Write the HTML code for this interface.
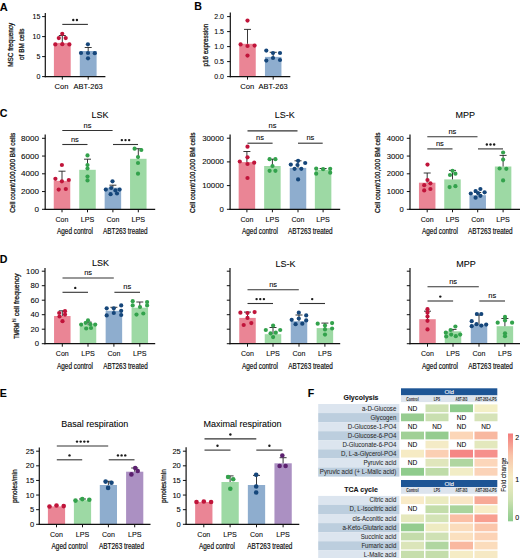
<!DOCTYPE html>
<html><head><meta charset="utf-8"><style>html,body{margin:0;padding:0;background:#fff;}body{width:520px;height:558px;overflow:hidden;font-family:"Liberation Sans", sans-serif;}svg{display:block;}</style></head><body>
<svg width="520" height="558" viewBox="0 0 520 558" font-family='"Liberation Sans", sans-serif'>
<rect width="520" height="558" fill="#fff"/>
<text x="-0.30" y="11.20" font-size="11" font-weight="bold" fill="#000" stroke="#000" stroke-width="0.08">A</text>
<text x="194.30" y="9.60" font-size="10.6" font-weight="bold" fill="#000" stroke="#000" stroke-width="0.08">B</text>
<text x="-0.20" y="117.00" font-size="10.6" font-weight="bold" fill="#000" stroke="#000" stroke-width="0.08">C</text>
<text x="-0.20" y="263.10" font-size="10.6" font-weight="bold" fill="#000" stroke="#000" stroke-width="0.08">D</text>
<text x="-0.20" y="397.10" font-size="10.6" font-weight="bold" fill="#000" stroke="#000" stroke-width="0.08">E</text>
<text x="307.80" y="396.70" font-size="10.6" font-weight="bold" fill="#000" stroke="#000" stroke-width="0.08">F</text>
<rect x="53.90" y="42.90" width="16.80" height="33.70" fill="#ea8595"/>
<rect x="79.80" y="51.00" width="16.80" height="25.60" fill="#8eadce"/>
<line x1="62.30" y1="42.90" x2="62.30" y2="35.50" stroke="#222" stroke-width="0.9"/>
<line x1="58.80" y1="35.50" x2="65.80" y2="35.50" stroke="#222" stroke-width="0.9"/>
<circle cx="62.25" cy="33.80" r="2.1" fill="#c0143a"/>
<circle cx="58.80" cy="38.10" r="2.1" fill="#c0143a"/>
<circle cx="65.70" cy="38.10" r="2.1" fill="#c0143a"/>
<circle cx="55.30" cy="44.40" r="2.1" fill="#c0143a"/>
<circle cx="62.30" cy="44.20" r="2.1" fill="#c0143a"/>
<circle cx="69.40" cy="44.40" r="2.1" fill="#c0143a"/>
<line x1="88.20" y1="51.00" x2="88.20" y2="47.50" stroke="#222" stroke-width="0.9"/>
<line x1="84.70" y1="47.50" x2="91.70" y2="47.50" stroke="#222" stroke-width="0.9"/>
<circle cx="87.90" cy="44.30" r="2.1" fill="#15467a"/>
<circle cx="81.00" cy="53.00" r="2.1" fill="#15467a"/>
<circle cx="88.00" cy="53.00" r="2.1" fill="#15467a"/>
<circle cx="94.80" cy="53.20" r="2.1" fill="#15467a"/>
<circle cx="88.00" cy="58.30" r="2.1" fill="#15467a"/>
<line x1="45.30" y1="12.90" x2="45.30" y2="77.20" stroke="#111" stroke-width="1.2"/>
<line x1="44.70" y1="76.60" x2="105.40" y2="76.60" stroke="#111" stroke-width="1.2"/>
<line x1="42.10" y1="76.60" x2="45.30" y2="76.60" stroke="#111" stroke-width="1.0"/>
<text x="40.40" y="79.10" font-size="7" text-anchor="end" stroke="#222" stroke-width="0.08">0</text>
<line x1="42.10" y1="56.60" x2="45.30" y2="56.60" stroke="#111" stroke-width="1.0"/>
<text x="40.40" y="59.10" font-size="7" text-anchor="end" stroke="#222" stroke-width="0.08">5</text>
<line x1="42.10" y1="36.60" x2="45.30" y2="36.60" stroke="#111" stroke-width="1.0"/>
<text x="40.40" y="39.10" font-size="7" text-anchor="end" stroke="#222" stroke-width="0.08">10</text>
<line x1="42.10" y1="16.60" x2="45.30" y2="16.60" stroke="#111" stroke-width="1.0"/>
<text x="40.40" y="19.10" font-size="7" text-anchor="end" stroke="#222" stroke-width="0.08">15</text>
<line x1="62.30" y1="76.60" x2="62.30" y2="79.60" stroke="#111" stroke-width="1.0"/>
<line x1="88.20" y1="76.60" x2="88.20" y2="79.60" stroke="#111" stroke-width="1.0"/>
<line x1="62.30" y1="24.40" x2="87.90" y2="24.40" stroke="#333" stroke-width="1.1"/>
<circle cx="73.27" cy="20.00" r="1.2" fill="#1a1a1a"/>
<circle cx="76.92" cy="20.00" r="1.2" fill="#1a1a1a"/>
<text x="61.60" y="88.60" font-size="7.5" text-anchor="middle" textLength="14.00" lengthAdjust="spacingAndGlyphs" stroke="#222" stroke-width="0.08">Con</text>
<text x="88.20" y="88.60" font-size="7.5" text-anchor="middle" stroke="#222" stroke-width="0.08">ABT-263</text>
<text x="13.50" y="44.80" font-size="7.0" text-anchor="middle" textLength="44.00" lengthAdjust="spacingAndGlyphs" transform="rotate(-90 13.50 44.80)" stroke="#222" stroke-width="0.28">MSC frequency</text>
<text x="24.20" y="44.20" font-size="7.0" text-anchor="middle" textLength="31.50" lengthAdjust="spacingAndGlyphs" transform="rotate(-90 24.20 44.20)" stroke="#222" stroke-width="0.28">of BM cells</text>
<rect x="239.25" y="43.80" width="16.50" height="32.80" fill="#ea8595"/>
<rect x="264.95" y="56.90" width="16.50" height="19.70" fill="#8eadce"/>
<line x1="247.50" y1="43.80" x2="247.50" y2="29.40" stroke="#222" stroke-width="0.9"/>
<line x1="244.00" y1="29.40" x2="251.00" y2="29.40" stroke="#222" stroke-width="0.9"/>
<circle cx="247.50" cy="20.60" r="2.1" fill="#c0143a"/>
<circle cx="240.60" cy="44.40" r="2.1" fill="#c0143a"/>
<circle cx="247.50" cy="46.00" r="2.1" fill="#c0143a"/>
<circle cx="254.60" cy="45.60" r="2.1" fill="#c0143a"/>
<circle cx="247.50" cy="55.60" r="2.1" fill="#c0143a"/>
<line x1="273.20" y1="56.90" x2="273.20" y2="52.30" stroke="#222" stroke-width="0.9"/>
<line x1="269.70" y1="52.30" x2="276.70" y2="52.30" stroke="#222" stroke-width="0.9"/>
<circle cx="266.30" cy="50.60" r="2.1" fill="#15467a"/>
<circle cx="273.00" cy="53.00" r="2.1" fill="#15467a"/>
<circle cx="280.00" cy="53.00" r="2.1" fill="#15467a"/>
<circle cx="273.00" cy="58.00" r="2.1" fill="#15467a"/>
<circle cx="266.30" cy="60.60" r="2.1" fill="#15467a"/>
<circle cx="280.00" cy="60.00" r="2.1" fill="#15467a"/>
<line x1="230.30" y1="12.50" x2="230.30" y2="77.20" stroke="#111" stroke-width="1.2"/>
<line x1="229.70" y1="76.60" x2="290.30" y2="76.60" stroke="#111" stroke-width="1.2"/>
<line x1="227.10" y1="76.60" x2="230.30" y2="76.60" stroke="#111" stroke-width="1.0"/>
<text x="224.00" y="79.10" font-size="7" text-anchor="end" stroke="#222" stroke-width="0.08">0.0</text>
<line x1="227.10" y1="61.60" x2="230.30" y2="61.60" stroke="#111" stroke-width="1.0"/>
<text x="224.00" y="64.10" font-size="7" text-anchor="end" stroke="#222" stroke-width="0.08">0.5</text>
<line x1="227.10" y1="46.60" x2="230.30" y2="46.60" stroke="#111" stroke-width="1.0"/>
<text x="224.00" y="49.10" font-size="7" text-anchor="end" stroke="#222" stroke-width="0.08">1.0</text>
<line x1="227.10" y1="31.60" x2="230.30" y2="31.60" stroke="#111" stroke-width="1.0"/>
<text x="224.00" y="34.10" font-size="7" text-anchor="end" stroke="#222" stroke-width="0.08">1.5</text>
<line x1="227.10" y1="16.60" x2="230.30" y2="16.60" stroke="#111" stroke-width="1.0"/>
<text x="224.00" y="19.10" font-size="7" text-anchor="end" stroke="#222" stroke-width="0.08">2.0</text>
<line x1="247.50" y1="76.60" x2="247.50" y2="79.60" stroke="#111" stroke-width="1.0"/>
<line x1="273.20" y1="76.60" x2="273.20" y2="79.60" stroke="#111" stroke-width="1.0"/>
<text x="247.30" y="88.60" font-size="7.5" text-anchor="middle" textLength="14.00" lengthAdjust="spacingAndGlyphs" stroke="#222" stroke-width="0.08">Con</text>
<text x="273.20" y="88.60" font-size="7.5" text-anchor="middle" stroke="#222" stroke-width="0.08">ABT-263</text>
<text x="208.00" y="45.10" font-size="7.0" text-anchor="middle" textLength="43.00" lengthAdjust="spacingAndGlyphs" transform="rotate(-90 208.00 45.10)" stroke="#222" stroke-width="0.28">p16 expression</text>
<rect x="53.75" y="180.80" width="16.50" height="28.50" fill="#ea8595"/>
<rect x="79.25" y="169.80" width="16.50" height="39.50" fill="#9dd9a4"/>
<rect x="104.65" y="187.70" width="16.50" height="21.60" fill="#8eadce"/>
<rect x="130.05" y="158.80" width="16.50" height="50.50" fill="#9dd9a4"/>
<line x1="62.00" y1="180.80" x2="62.00" y2="171.20" stroke="#222" stroke-width="0.9"/>
<line x1="58.50" y1="171.20" x2="65.50" y2="171.20" stroke="#222" stroke-width="0.9"/>
<circle cx="61.90" cy="165.00" r="2.1" fill="#c0143a"/>
<circle cx="55.40" cy="178.80" r="2.1" fill="#c0143a"/>
<circle cx="61.90" cy="181.30" r="2.1" fill="#c0143a"/>
<circle cx="68.80" cy="180.00" r="2.1" fill="#c0143a"/>
<circle cx="58.70" cy="189.60" r="2.1" fill="#c0143a"/>
<circle cx="65.80" cy="189.00" r="2.1" fill="#c0143a"/>
<line x1="87.50" y1="169.80" x2="87.50" y2="159.20" stroke="#222" stroke-width="0.9"/>
<line x1="84.00" y1="159.20" x2="91.00" y2="159.20" stroke="#222" stroke-width="0.9"/>
<circle cx="87.50" cy="155.40" r="2.1" fill="#33a24c"/>
<circle cx="87.50" cy="165.00" r="2.1" fill="#33a24c"/>
<circle cx="87.50" cy="168.50" r="2.1" fill="#33a24c"/>
<circle cx="87.50" cy="176.50" r="2.1" fill="#33a24c"/>
<circle cx="87.50" cy="180.40" r="2.1" fill="#33a24c"/>
<line x1="112.90" y1="187.70" x2="112.90" y2="185.20" stroke="#222" stroke-width="0.9"/>
<line x1="109.40" y1="185.20" x2="116.40" y2="185.20" stroke="#222" stroke-width="0.9"/>
<circle cx="112.50" cy="181.30" r="2.1" fill="#15467a"/>
<circle cx="105.80" cy="189.60" r="2.1" fill="#15467a"/>
<circle cx="111.20" cy="188.00" r="2.1" fill="#15467a"/>
<circle cx="115.40" cy="190.40" r="2.1" fill="#15467a"/>
<circle cx="119.60" cy="189.60" r="2.1" fill="#15467a"/>
<circle cx="110.60" cy="194.20" r="2.1" fill="#15467a"/>
<circle cx="117.00" cy="193.50" r="2.1" fill="#15467a"/>
<line x1="138.30" y1="158.80" x2="138.30" y2="148.70" stroke="#222" stroke-width="0.9"/>
<line x1="134.80" y1="148.70" x2="141.80" y2="148.70" stroke="#222" stroke-width="0.9"/>
<circle cx="134.60" cy="148.70" r="2.1" fill="#33a24c"/>
<circle cx="141.30" cy="150.00" r="2.1" fill="#33a24c"/>
<circle cx="138.00" cy="157.00" r="2.1" fill="#33a24c"/>
<circle cx="138.00" cy="163.00" r="2.1" fill="#33a24c"/>
<circle cx="138.00" cy="173.70" r="2.1" fill="#33a24c"/>
<line x1="45.20" y1="134.40" x2="45.20" y2="209.90" stroke="#111" stroke-width="1.2"/>
<line x1="44.60" y1="209.30" x2="155.20" y2="209.30" stroke="#111" stroke-width="1.2"/>
<line x1="42.00" y1="209.30" x2="45.20" y2="209.30" stroke="#111" stroke-width="1.0"/>
<text x="39.00" y="211.80" font-size="7" text-anchor="end" textLength="4.50" lengthAdjust="spacingAndGlyphs" stroke="#222" stroke-width="0.08">0</text>
<line x1="42.00" y1="191.55" x2="45.20" y2="191.55" stroke="#111" stroke-width="1.0"/>
<text x="39.00" y="194.05" font-size="7" text-anchor="end" textLength="18.00" lengthAdjust="spacingAndGlyphs" stroke="#222" stroke-width="0.08">2000</text>
<line x1="42.00" y1="173.80" x2="45.20" y2="173.80" stroke="#111" stroke-width="1.0"/>
<text x="39.00" y="176.30" font-size="7" text-anchor="end" textLength="18.00" lengthAdjust="spacingAndGlyphs" stroke="#222" stroke-width="0.08">4000</text>
<line x1="42.00" y1="156.05" x2="45.20" y2="156.05" stroke="#111" stroke-width="1.0"/>
<text x="39.00" y="158.55" font-size="7" text-anchor="end" textLength="18.00" lengthAdjust="spacingAndGlyphs" stroke="#222" stroke-width="0.08">6000</text>
<line x1="42.00" y1="138.30" x2="45.20" y2="138.30" stroke="#111" stroke-width="1.0"/>
<text x="39.00" y="140.80" font-size="7" text-anchor="end" textLength="18.00" lengthAdjust="spacingAndGlyphs" stroke="#222" stroke-width="0.08">8000</text>
<line x1="62.00" y1="209.30" x2="62.00" y2="212.30" stroke="#111" stroke-width="1.0"/>
<line x1="87.50" y1="209.30" x2="87.50" y2="212.30" stroke="#111" stroke-width="1.0"/>
<line x1="112.90" y1="209.30" x2="112.90" y2="212.30" stroke="#111" stroke-width="1.0"/>
<line x1="138.30" y1="209.30" x2="138.30" y2="212.30" stroke="#111" stroke-width="1.0"/>
<line x1="62.30" y1="130.50" x2="112.60" y2="130.50" stroke="#333" stroke-width="1.1"/>
<text x="87.45" y="127.50" font-size="7.5" text-anchor="middle" stroke="#222" stroke-width="0.08">ns</text>
<line x1="62.30" y1="144.50" x2="87.50" y2="144.50" stroke="#333" stroke-width="1.1"/>
<text x="74.90" y="141.50" font-size="7.5" text-anchor="middle" stroke="#222" stroke-width="0.08">ns</text>
<line x1="113.00" y1="144.50" x2="138.00" y2="144.50" stroke="#333" stroke-width="1.1"/>
<circle cx="121.85" cy="140.10" r="1.2" fill="#1a1a1a"/>
<circle cx="125.50" cy="140.10" r="1.2" fill="#1a1a1a"/>
<circle cx="129.15" cy="140.10" r="1.2" fill="#1a1a1a"/>
<text x="62.00" y="221.70" font-size="7.3" text-anchor="middle" textLength="13.00" lengthAdjust="spacingAndGlyphs" stroke="#222" stroke-width="0.08">Con</text>
<text x="87.50" y="221.70" font-size="7.3" text-anchor="middle" textLength="13.60" lengthAdjust="spacingAndGlyphs" stroke="#222" stroke-width="0.08">LPS</text>
<text x="112.90" y="221.70" font-size="7.3" text-anchor="middle" textLength="13.00" lengthAdjust="spacingAndGlyphs" stroke="#222" stroke-width="0.08">Con</text>
<text x="138.30" y="221.70" font-size="7.3" text-anchor="middle" textLength="13.60" lengthAdjust="spacingAndGlyphs" stroke="#222" stroke-width="0.08">LPS</text>
<text x="75.00" y="234.30" font-size="8.3" text-anchor="middle" textLength="36.00" lengthAdjust="spacingAndGlyphs" stroke="#222" stroke-width="0.18">Aged control</text>
<text x="125.30" y="234.30" font-size="8.3" text-anchor="middle" textLength="44.60" lengthAdjust="spacingAndGlyphs" stroke="#222" stroke-width="0.18">ABT263 treated</text>
<text x="14.80" y="172.80" font-size="7.3" text-anchor="middle" textLength="80.00" lengthAdjust="spacingAndGlyphs" transform="rotate(-90 14.80 172.80)" stroke="#222" stroke-width="0.28">Cell count/100,000 BM cells</text>
<text x="100.00" y="117.60" font-size="9" text-anchor="middle" stroke="#222" stroke-width="0.08">LSK</text>
<rect x="238.65" y="162.10" width="16.50" height="47.20" fill="#ea8595"/>
<rect x="264.15" y="166.00" width="16.50" height="43.30" fill="#9dd9a4"/>
<rect x="289.75" y="167.90" width="16.50" height="41.40" fill="#8eadce"/>
<rect x="314.85" y="169.80" width="16.50" height="39.50" fill="#9dd9a4"/>
<line x1="246.90" y1="162.10" x2="246.90" y2="151.50" stroke="#222" stroke-width="0.9"/>
<line x1="243.40" y1="151.50" x2="250.40" y2="151.50" stroke="#222" stroke-width="0.9"/>
<circle cx="247.50" cy="146.70" r="2.1" fill="#c0143a"/>
<circle cx="247.50" cy="157.30" r="2.1" fill="#c0143a"/>
<circle cx="239.80" cy="161.50" r="2.1" fill="#c0143a"/>
<circle cx="247.50" cy="164.00" r="2.1" fill="#c0143a"/>
<circle cx="254.20" cy="162.70" r="2.1" fill="#c0143a"/>
<circle cx="247.50" cy="178.00" r="2.1" fill="#c0143a"/>
<line x1="272.40" y1="166.00" x2="272.40" y2="159.20" stroke="#222" stroke-width="0.9"/>
<line x1="268.90" y1="159.20" x2="275.90" y2="159.20" stroke="#222" stroke-width="0.9"/>
<circle cx="269.60" cy="159.20" r="2.1" fill="#33a24c"/>
<circle cx="275.40" cy="159.20" r="2.1" fill="#33a24c"/>
<circle cx="272.50" cy="166.00" r="2.1" fill="#33a24c"/>
<circle cx="269.60" cy="170.80" r="2.1" fill="#33a24c"/>
<circle cx="275.40" cy="170.80" r="2.1" fill="#33a24c"/>
<line x1="298.00" y1="167.90" x2="298.00" y2="160.80" stroke="#222" stroke-width="0.9"/>
<line x1="294.50" y1="160.80" x2="301.50" y2="160.80" stroke="#222" stroke-width="0.9"/>
<circle cx="298.10" cy="160.80" r="2.1" fill="#15467a"/>
<circle cx="290.80" cy="164.60" r="2.1" fill="#15467a"/>
<circle cx="297.50" cy="165.00" r="2.1" fill="#15467a"/>
<circle cx="305.20" cy="163.00" r="2.1" fill="#15467a"/>
<circle cx="294.60" cy="168.80" r="2.1" fill="#15467a"/>
<circle cx="301.30" cy="168.80" r="2.1" fill="#15467a"/>
<circle cx="298.10" cy="179.40" r="2.1" fill="#15467a"/>
<line x1="323.10" y1="169.80" x2="323.10" y2="168.50" stroke="#222" stroke-width="0.9"/>
<line x1="319.60" y1="168.50" x2="326.60" y2="168.50" stroke="#222" stroke-width="0.9"/>
<circle cx="316.20" cy="168.50" r="2.1" fill="#33a24c"/>
<circle cx="323.10" cy="169.20" r="2.1" fill="#33a24c"/>
<circle cx="330.20" cy="168.80" r="2.1" fill="#33a24c"/>
<circle cx="316.20" cy="173.70" r="2.1" fill="#33a24c"/>
<circle cx="330.20" cy="172.70" r="2.1" fill="#33a24c"/>
<line x1="230.10" y1="134.50" x2="230.10" y2="209.90" stroke="#111" stroke-width="1.2"/>
<line x1="229.50" y1="209.30" x2="340.20" y2="209.30" stroke="#111" stroke-width="1.2"/>
<line x1="226.90" y1="209.30" x2="230.10" y2="209.30" stroke="#111" stroke-width="1.0"/>
<text x="223.90" y="211.80" font-size="7" text-anchor="end" textLength="4.35" lengthAdjust="spacingAndGlyphs" stroke="#222" stroke-width="0.08">0</text>
<line x1="226.90" y1="185.60" x2="230.10" y2="185.60" stroke="#111" stroke-width="1.0"/>
<text x="223.90" y="188.10" font-size="7" text-anchor="end" textLength="21.75" lengthAdjust="spacingAndGlyphs" stroke="#222" stroke-width="0.08">10000</text>
<line x1="226.90" y1="161.90" x2="230.10" y2="161.90" stroke="#111" stroke-width="1.0"/>
<text x="223.90" y="164.40" font-size="7" text-anchor="end" textLength="21.75" lengthAdjust="spacingAndGlyphs" stroke="#222" stroke-width="0.08">20000</text>
<line x1="226.90" y1="138.20" x2="230.10" y2="138.20" stroke="#111" stroke-width="1.0"/>
<text x="223.90" y="140.70" font-size="7" text-anchor="end" textLength="21.75" lengthAdjust="spacingAndGlyphs" stroke="#222" stroke-width="0.08">30000</text>
<line x1="246.90" y1="209.30" x2="246.90" y2="212.30" stroke="#111" stroke-width="1.0"/>
<line x1="272.40" y1="209.30" x2="272.40" y2="212.30" stroke="#111" stroke-width="1.0"/>
<line x1="298.00" y1="209.30" x2="298.00" y2="212.30" stroke="#111" stroke-width="1.0"/>
<line x1="323.10" y1="209.30" x2="323.10" y2="212.30" stroke="#111" stroke-width="1.0"/>
<line x1="247.50" y1="130.90" x2="297.50" y2="130.90" stroke="#333" stroke-width="1.1"/>
<text x="272.50" y="127.90" font-size="7.5" text-anchor="middle" stroke="#222" stroke-width="0.08">ns</text>
<line x1="247.50" y1="143.20" x2="272.60" y2="143.20" stroke="#333" stroke-width="1.1"/>
<text x="260.05" y="140.20" font-size="7.5" text-anchor="middle" stroke="#222" stroke-width="0.08">ns</text>
<line x1="298.00" y1="143.20" x2="322.70" y2="143.20" stroke="#333" stroke-width="1.1"/>
<text x="310.35" y="140.20" font-size="7.5" text-anchor="middle" stroke="#222" stroke-width="0.08">ns</text>
<text x="246.90" y="221.70" font-size="7.3" text-anchor="middle" textLength="13.00" lengthAdjust="spacingAndGlyphs" stroke="#222" stroke-width="0.08">Con</text>
<text x="272.40" y="221.70" font-size="7.3" text-anchor="middle" textLength="13.60" lengthAdjust="spacingAndGlyphs" stroke="#222" stroke-width="0.08">LPS</text>
<text x="298.00" y="221.70" font-size="7.3" text-anchor="middle" textLength="13.00" lengthAdjust="spacingAndGlyphs" stroke="#222" stroke-width="0.08">Con</text>
<text x="323.10" y="221.70" font-size="7.3" text-anchor="middle" textLength="13.60" lengthAdjust="spacingAndGlyphs" stroke="#222" stroke-width="0.08">LPS</text>
<text x="260.00" y="234.30" font-size="8.3" text-anchor="middle" textLength="36.00" lengthAdjust="spacingAndGlyphs" stroke="#222" stroke-width="0.18">Aged control</text>
<text x="310.30" y="234.30" font-size="8.3" text-anchor="middle" textLength="44.60" lengthAdjust="spacingAndGlyphs" stroke="#222" stroke-width="0.18">ABT263 treated</text>
<text x="195.00" y="172.80" font-size="7.3" text-anchor="middle" textLength="80.50" lengthAdjust="spacingAndGlyphs" transform="rotate(-90 195.00 172.80)" stroke="#222" stroke-width="0.28">Cell count/100,000 BM cells</text>
<text x="284.80" y="117.60" font-size="9" text-anchor="middle" stroke="#222" stroke-width="0.08">LS-K</text>
<rect x="418.95" y="182.70" width="16.50" height="26.60" fill="#ea8595"/>
<rect x="444.25" y="179.40" width="16.50" height="29.90" fill="#9dd9a4"/>
<rect x="469.45" y="195.20" width="16.50" height="14.10" fill="#8eadce"/>
<rect x="494.85" y="166.50" width="16.50" height="42.80" fill="#9dd9a4"/>
<line x1="427.20" y1="182.70" x2="427.20" y2="173.00" stroke="#222" stroke-width="0.9"/>
<line x1="423.70" y1="173.00" x2="430.70" y2="173.00" stroke="#222" stroke-width="0.9"/>
<circle cx="427.50" cy="164.60" r="2.1" fill="#c0143a"/>
<circle cx="427.50" cy="180.00" r="2.1" fill="#c0143a"/>
<circle cx="424.20" cy="185.20" r="2.1" fill="#c0143a"/>
<circle cx="430.40" cy="183.30" r="2.1" fill="#c0143a"/>
<circle cx="424.20" cy="190.40" r="2.1" fill="#c0143a"/>
<circle cx="430.40" cy="189.00" r="2.1" fill="#c0143a"/>
<line x1="452.50" y1="179.40" x2="452.50" y2="170.40" stroke="#222" stroke-width="0.9"/>
<line x1="449.00" y1="170.40" x2="456.00" y2="170.40" stroke="#222" stroke-width="0.9"/>
<circle cx="452.50" cy="170.80" r="2.1" fill="#33a24c"/>
<circle cx="450.00" cy="175.00" r="2.1" fill="#33a24c"/>
<circle cx="455.40" cy="173.70" r="2.1" fill="#33a24c"/>
<circle cx="449.60" cy="187.10" r="2.1" fill="#33a24c"/>
<circle cx="455.40" cy="186.20" r="2.1" fill="#33a24c"/>
<line x1="477.70" y1="195.20" x2="477.70" y2="192.50" stroke="#222" stroke-width="0.9"/>
<line x1="474.20" y1="192.50" x2="481.20" y2="192.50" stroke="#222" stroke-width="0.9"/>
<circle cx="480.40" cy="189.00" r="2.1" fill="#15467a"/>
<circle cx="475.60" cy="191.00" r="2.1" fill="#15467a"/>
<circle cx="470.80" cy="193.50" r="2.1" fill="#15467a"/>
<circle cx="484.60" cy="192.30" r="2.1" fill="#15467a"/>
<circle cx="480.40" cy="195.80" r="2.1" fill="#15467a"/>
<circle cx="475.60" cy="197.70" r="2.1" fill="#15467a"/>
<circle cx="478.00" cy="193.00" r="2.1" fill="#15467a"/>
<line x1="503.10" y1="166.50" x2="503.10" y2="155.40" stroke="#222" stroke-width="0.9"/>
<line x1="499.60" y1="155.40" x2="506.60" y2="155.40" stroke="#222" stroke-width="0.9"/>
<circle cx="503.10" cy="152.50" r="2.1" fill="#33a24c"/>
<circle cx="503.10" cy="159.60" r="2.1" fill="#33a24c"/>
<circle cx="499.60" cy="168.50" r="2.1" fill="#33a24c"/>
<circle cx="506.30" cy="168.80" r="2.1" fill="#33a24c"/>
<circle cx="503.10" cy="180.40" r="2.1" fill="#33a24c"/>
<line x1="410.00" y1="134.50" x2="410.00" y2="209.90" stroke="#111" stroke-width="1.2"/>
<line x1="409.40" y1="209.30" x2="520.50" y2="209.30" stroke="#111" stroke-width="1.2"/>
<line x1="406.80" y1="209.30" x2="410.00" y2="209.30" stroke="#111" stroke-width="1.0"/>
<text x="403.70" y="211.80" font-size="7" text-anchor="end" textLength="4.25" lengthAdjust="spacingAndGlyphs" stroke="#222" stroke-width="0.08">0</text>
<line x1="406.80" y1="191.55" x2="410.00" y2="191.55" stroke="#111" stroke-width="1.0"/>
<text x="403.70" y="194.05" font-size="7" text-anchor="end" textLength="17.00" lengthAdjust="spacingAndGlyphs" stroke="#222" stroke-width="0.08">1000</text>
<line x1="406.80" y1="173.80" x2="410.00" y2="173.80" stroke="#111" stroke-width="1.0"/>
<text x="403.70" y="176.30" font-size="7" text-anchor="end" textLength="17.00" lengthAdjust="spacingAndGlyphs" stroke="#222" stroke-width="0.08">2000</text>
<line x1="406.80" y1="156.05" x2="410.00" y2="156.05" stroke="#111" stroke-width="1.0"/>
<text x="403.70" y="158.55" font-size="7" text-anchor="end" textLength="17.00" lengthAdjust="spacingAndGlyphs" stroke="#222" stroke-width="0.08">3000</text>
<line x1="406.80" y1="138.30" x2="410.00" y2="138.30" stroke="#111" stroke-width="1.0"/>
<text x="403.70" y="140.80" font-size="7" text-anchor="end" textLength="17.00" lengthAdjust="spacingAndGlyphs" stroke="#222" stroke-width="0.08">4000</text>
<line x1="427.20" y1="209.30" x2="427.20" y2="212.30" stroke="#111" stroke-width="1.0"/>
<line x1="452.50" y1="209.30" x2="452.50" y2="212.30" stroke="#111" stroke-width="1.0"/>
<line x1="477.70" y1="209.30" x2="477.70" y2="212.30" stroke="#111" stroke-width="1.0"/>
<line x1="503.10" y1="209.30" x2="503.10" y2="212.30" stroke="#111" stroke-width="1.0"/>
<line x1="427.30" y1="136.70" x2="477.50" y2="136.70" stroke="#333" stroke-width="1.1"/>
<text x="452.40" y="133.70" font-size="7.5" text-anchor="middle" stroke="#222" stroke-width="0.08">ns</text>
<line x1="427.30" y1="148.90" x2="452.50" y2="148.90" stroke="#333" stroke-width="1.1"/>
<text x="439.90" y="145.90" font-size="7.5" text-anchor="middle" stroke="#222" stroke-width="0.08">ns</text>
<line x1="478.00" y1="148.90" x2="503.00" y2="148.90" stroke="#333" stroke-width="1.1"/>
<circle cx="486.85" cy="144.50" r="1.2" fill="#1a1a1a"/>
<circle cx="490.50" cy="144.50" r="1.2" fill="#1a1a1a"/>
<circle cx="494.15" cy="144.50" r="1.2" fill="#1a1a1a"/>
<text x="427.20" y="221.70" font-size="7.3" text-anchor="middle" textLength="13.00" lengthAdjust="spacingAndGlyphs" stroke="#222" stroke-width="0.08">Con</text>
<text x="452.50" y="221.70" font-size="7.3" text-anchor="middle" textLength="13.60" lengthAdjust="spacingAndGlyphs" stroke="#222" stroke-width="0.08">LPS</text>
<text x="477.70" y="221.70" font-size="7.3" text-anchor="middle" textLength="13.00" lengthAdjust="spacingAndGlyphs" stroke="#222" stroke-width="0.08">Con</text>
<text x="503.10" y="221.70" font-size="7.3" text-anchor="middle" textLength="13.60" lengthAdjust="spacingAndGlyphs" stroke="#222" stroke-width="0.08">LPS</text>
<text x="440.00" y="234.30" font-size="8.3" text-anchor="middle" textLength="36.00" lengthAdjust="spacingAndGlyphs" stroke="#222" stroke-width="0.18">Aged control</text>
<text x="490.30" y="234.30" font-size="8.3" text-anchor="middle" textLength="44.60" lengthAdjust="spacingAndGlyphs" stroke="#222" stroke-width="0.18">ABT263 treated</text>
<text x="380.20" y="172.80" font-size="7.3" text-anchor="middle" textLength="80.50" lengthAdjust="spacingAndGlyphs" transform="rotate(-90 380.20 172.80)" stroke="#222" stroke-width="0.28">Cell count/100,000 BM cells</text>
<text x="465.30" y="117.60" font-size="9" text-anchor="middle" stroke="#222" stroke-width="0.08">MPP</text>
<rect x="54.05" y="316.00" width="16.50" height="27.70" fill="#ea8595"/>
<rect x="79.75" y="325.20" width="16.50" height="18.50" fill="#9dd9a4"/>
<rect x="105.65" y="310.80" width="16.50" height="32.90" fill="#8eadce"/>
<rect x="131.55" y="307.70" width="16.50" height="36.00" fill="#9dd9a4"/>
<line x1="62.30" y1="316.00" x2="62.30" y2="310.80" stroke="#222" stroke-width="0.9"/>
<line x1="58.80" y1="310.80" x2="65.80" y2="310.80" stroke="#222" stroke-width="0.9"/>
<circle cx="59.20" cy="313.00" r="2.1" fill="#c0143a"/>
<circle cx="65.00" cy="311.20" r="2.1" fill="#c0143a"/>
<circle cx="65.00" cy="314.60" r="2.1" fill="#c0143a"/>
<circle cx="59.50" cy="316.50" r="2.1" fill="#c0143a"/>
<circle cx="62.50" cy="321.20" r="2.1" fill="#c0143a"/>
<line x1="88.00" y1="325.20" x2="88.00" y2="322.00" stroke="#222" stroke-width="0.9"/>
<line x1="84.50" y1="322.00" x2="91.50" y2="322.00" stroke="#222" stroke-width="0.9"/>
<circle cx="88.00" cy="320.40" r="2.1" fill="#33a24c"/>
<circle cx="81.20" cy="324.60" r="2.1" fill="#33a24c"/>
<circle cx="85.60" cy="323.00" r="2.1" fill="#33a24c"/>
<circle cx="90.40" cy="324.20" r="2.1" fill="#33a24c"/>
<circle cx="95.20" cy="324.60" r="2.1" fill="#33a24c"/>
<circle cx="86.20" cy="328.50" r="2.1" fill="#33a24c"/>
<circle cx="91.00" cy="328.00" r="2.1" fill="#33a24c"/>
<line x1="113.90" y1="310.80" x2="113.90" y2="307.30" stroke="#222" stroke-width="0.9"/>
<line x1="110.40" y1="307.30" x2="117.40" y2="307.30" stroke="#222" stroke-width="0.9"/>
<circle cx="106.70" cy="308.30" r="2.1" fill="#15467a"/>
<circle cx="113.80" cy="308.30" r="2.1" fill="#15467a"/>
<circle cx="121.20" cy="305.40" r="2.1" fill="#15467a"/>
<circle cx="121.20" cy="310.80" r="2.1" fill="#15467a"/>
<circle cx="113.80" cy="313.00" r="2.1" fill="#15467a"/>
<circle cx="106.70" cy="315.40" r="2.1" fill="#15467a"/>
<circle cx="121.20" cy="315.00" r="2.1" fill="#15467a"/>
<line x1="139.80" y1="307.70" x2="139.80" y2="302.00" stroke="#222" stroke-width="0.9"/>
<line x1="136.30" y1="302.00" x2="143.30" y2="302.00" stroke="#222" stroke-width="0.9"/>
<circle cx="132.70" cy="301.20" r="2.1" fill="#33a24c"/>
<circle cx="147.10" cy="302.00" r="2.1" fill="#33a24c"/>
<circle cx="132.70" cy="305.40" r="2.1" fill="#33a24c"/>
<circle cx="140.00" cy="307.00" r="2.1" fill="#33a24c"/>
<circle cx="147.10" cy="305.40" r="2.1" fill="#33a24c"/>
<circle cx="136.50" cy="314.60" r="2.1" fill="#33a24c"/>
<circle cx="143.30" cy="313.50" r="2.1" fill="#33a24c"/>
<line x1="45.00" y1="268.00" x2="45.00" y2="344.30" stroke="#111" stroke-width="1.2"/>
<line x1="44.40" y1="343.70" x2="155.20" y2="343.70" stroke="#111" stroke-width="1.2"/>
<line x1="41.80" y1="343.70" x2="45.00" y2="343.70" stroke="#111" stroke-width="1.0"/>
<text x="39.00" y="346.20" font-size="7" text-anchor="end" textLength="4.30" lengthAdjust="spacingAndGlyphs" stroke="#222" stroke-width="0.08">0</text>
<line x1="41.80" y1="329.20" x2="45.00" y2="329.20" stroke="#111" stroke-width="1.0"/>
<text x="39.00" y="331.70" font-size="7" text-anchor="end" textLength="8.60" lengthAdjust="spacingAndGlyphs" stroke="#222" stroke-width="0.08">20</text>
<line x1="41.80" y1="314.70" x2="45.00" y2="314.70" stroke="#111" stroke-width="1.0"/>
<text x="39.00" y="317.20" font-size="7" text-anchor="end" textLength="8.60" lengthAdjust="spacingAndGlyphs" stroke="#222" stroke-width="0.08">40</text>
<line x1="41.80" y1="300.20" x2="45.00" y2="300.20" stroke="#111" stroke-width="1.0"/>
<text x="39.00" y="302.70" font-size="7" text-anchor="end" textLength="8.60" lengthAdjust="spacingAndGlyphs" stroke="#222" stroke-width="0.08">60</text>
<line x1="41.80" y1="285.70" x2="45.00" y2="285.70" stroke="#111" stroke-width="1.0"/>
<text x="39.00" y="288.20" font-size="7" text-anchor="end" textLength="8.60" lengthAdjust="spacingAndGlyphs" stroke="#222" stroke-width="0.08">80</text>
<line x1="41.80" y1="271.20" x2="45.00" y2="271.20" stroke="#111" stroke-width="1.0"/>
<text x="39.00" y="273.70" font-size="7" text-anchor="end" textLength="12.90" lengthAdjust="spacingAndGlyphs" stroke="#222" stroke-width="0.08">100</text>
<line x1="62.30" y1="343.70" x2="62.30" y2="346.70" stroke="#111" stroke-width="1.0"/>
<line x1="88.00" y1="343.70" x2="88.00" y2="346.70" stroke="#111" stroke-width="1.0"/>
<line x1="113.90" y1="343.70" x2="113.90" y2="346.70" stroke="#111" stroke-width="1.0"/>
<line x1="139.80" y1="343.70" x2="139.80" y2="346.70" stroke="#111" stroke-width="1.0"/>
<line x1="62.50" y1="278.00" x2="113.80" y2="278.00" stroke="#333" stroke-width="1.1"/>
<text x="88.15" y="275.00" font-size="7.5" text-anchor="middle" stroke="#222" stroke-width="0.08">ns</text>
<line x1="62.50" y1="292.30" x2="88.00" y2="292.30" stroke="#333" stroke-width="1.1"/>
<circle cx="75.25" cy="287.90" r="1.2" fill="#1a1a1a"/>
<line x1="114.40" y1="292.30" x2="140.00" y2="292.30" stroke="#333" stroke-width="1.1"/>
<text x="127.20" y="289.30" font-size="7.5" text-anchor="middle" stroke="#222" stroke-width="0.08">ns</text>
<text x="62.30" y="356.10" font-size="7.3" text-anchor="middle" textLength="13.00" lengthAdjust="spacingAndGlyphs" stroke="#222" stroke-width="0.08">Con</text>
<text x="88.00" y="356.10" font-size="7.3" text-anchor="middle" textLength="13.60" lengthAdjust="spacingAndGlyphs" stroke="#222" stroke-width="0.08">LPS</text>
<text x="113.90" y="356.10" font-size="7.3" text-anchor="middle" textLength="13.00" lengthAdjust="spacingAndGlyphs" stroke="#222" stroke-width="0.08">Con</text>
<text x="139.80" y="356.10" font-size="7.3" text-anchor="middle" textLength="13.60" lengthAdjust="spacingAndGlyphs" stroke="#222" stroke-width="0.08">LPS</text>
<text x="75.00" y="368.70" font-size="8.3" text-anchor="middle" textLength="36.00" lengthAdjust="spacingAndGlyphs" stroke="#222" stroke-width="0.18">Aged control</text>
<text x="125.50" y="368.70" font-size="8.3" text-anchor="middle" textLength="44.60" lengthAdjust="spacingAndGlyphs" stroke="#222" stroke-width="0.18">ABT263 treated</text>
<text x="100.60" y="266.00" font-size="9" text-anchor="middle" stroke="#222" stroke-width="0.08">LSK</text>
<text x="18.60" y="338.80" font-size="7.4" textLength="16.00" lengthAdjust="spacingAndGlyphs" transform="rotate(-90 18.60 338.80)" stroke="#222" stroke-width="0.3">TMRM</text>
<text x="15.90" y="322.30" font-size="4.8" textLength="3.90" lengthAdjust="spacingAndGlyphs" transform="rotate(-90 15.90 322.30)" stroke="#222" stroke-width="0.15">hi</text>
<text x="18.60" y="316.20" font-size="7.3" textLength="42.60" lengthAdjust="spacingAndGlyphs" transform="rotate(-90 18.60 316.20)" stroke="#222" stroke-width="0.28">cell frequency</text>
<rect x="239.25" y="317.90" width="16.50" height="25.80" fill="#ea8595"/>
<rect x="264.75" y="334.20" width="16.50" height="9.50" fill="#9dd9a4"/>
<rect x="290.75" y="321.20" width="16.50" height="22.50" fill="#8eadce"/>
<rect x="316.65" y="328.10" width="16.50" height="15.60" fill="#9dd9a4"/>
<line x1="247.50" y1="317.90" x2="247.50" y2="312.10" stroke="#222" stroke-width="0.9"/>
<line x1="244.00" y1="312.10" x2="251.00" y2="312.10" stroke="#222" stroke-width="0.9"/>
<circle cx="240.40" cy="312.70" r="2.1" fill="#c0143a"/>
<circle cx="247.50" cy="313.00" r="2.1" fill="#c0143a"/>
<circle cx="254.60" cy="312.10" r="2.1" fill="#c0143a"/>
<circle cx="247.50" cy="317.90" r="2.1" fill="#c0143a"/>
<circle cx="243.70" cy="325.00" r="2.1" fill="#c0143a"/>
<circle cx="251.30" cy="323.10" r="2.1" fill="#c0143a"/>
<line x1="273.00" y1="334.20" x2="273.00" y2="327.50" stroke="#222" stroke-width="0.9"/>
<line x1="269.50" y1="327.50" x2="276.50" y2="327.50" stroke="#222" stroke-width="0.9"/>
<circle cx="273.10" cy="325.60" r="2.1" fill="#33a24c"/>
<circle cx="265.80" cy="330.00" r="2.1" fill="#33a24c"/>
<circle cx="280.20" cy="330.00" r="2.1" fill="#33a24c"/>
<circle cx="270.60" cy="333.30" r="2.1" fill="#33a24c"/>
<circle cx="275.80" cy="332.70" r="2.1" fill="#33a24c"/>
<circle cx="273.10" cy="337.10" r="2.1" fill="#33a24c"/>
<line x1="299.00" y1="321.20" x2="299.00" y2="315.00" stroke="#222" stroke-width="0.9"/>
<line x1="295.50" y1="315.00" x2="302.50" y2="315.00" stroke="#222" stroke-width="0.9"/>
<circle cx="298.80" cy="312.70" r="2.1" fill="#15467a"/>
<circle cx="291.70" cy="319.80" r="2.1" fill="#15467a"/>
<circle cx="298.80" cy="318.50" r="2.1" fill="#15467a"/>
<circle cx="306.20" cy="315.40" r="2.1" fill="#15467a"/>
<circle cx="306.20" cy="320.40" r="2.1" fill="#15467a"/>
<circle cx="295.60" cy="324.20" r="2.1" fill="#15467a"/>
<circle cx="302.30" cy="323.70" r="2.1" fill="#15467a"/>
<line x1="324.90" y1="328.10" x2="324.90" y2="323.10" stroke="#222" stroke-width="0.9"/>
<line x1="321.40" y1="323.10" x2="328.40" y2="323.10" stroke="#222" stroke-width="0.9"/>
<circle cx="317.70" cy="323.70" r="2.1" fill="#33a24c"/>
<circle cx="332.10" cy="323.10" r="2.1" fill="#33a24c"/>
<circle cx="325.00" cy="325.60" r="2.1" fill="#33a24c"/>
<circle cx="325.00" cy="329.40" r="2.1" fill="#33a24c"/>
<circle cx="332.10" cy="328.50" r="2.1" fill="#33a24c"/>
<circle cx="325.00" cy="334.60" r="2.1" fill="#33a24c"/>
<line x1="230.00" y1="268.00" x2="230.00" y2="344.30" stroke="#111" stroke-width="1.2"/>
<line x1="229.40" y1="343.70" x2="340.20" y2="343.70" stroke="#111" stroke-width="1.2"/>
<line x1="226.80" y1="343.70" x2="230.00" y2="343.70" stroke="#111" stroke-width="1.0"/>
<line x1="226.80" y1="329.20" x2="230.00" y2="329.20" stroke="#111" stroke-width="1.0"/>
<line x1="226.80" y1="314.70" x2="230.00" y2="314.70" stroke="#111" stroke-width="1.0"/>
<line x1="226.80" y1="300.20" x2="230.00" y2="300.20" stroke="#111" stroke-width="1.0"/>
<line x1="226.80" y1="285.70" x2="230.00" y2="285.70" stroke="#111" stroke-width="1.0"/>
<line x1="226.80" y1="271.20" x2="230.00" y2="271.20" stroke="#111" stroke-width="1.0"/>
<line x1="247.50" y1="343.70" x2="247.50" y2="346.70" stroke="#111" stroke-width="1.0"/>
<line x1="273.00" y1="343.70" x2="273.00" y2="346.70" stroke="#111" stroke-width="1.0"/>
<line x1="299.00" y1="343.70" x2="299.00" y2="346.70" stroke="#111" stroke-width="1.0"/>
<line x1="324.90" y1="343.70" x2="324.90" y2="346.70" stroke="#111" stroke-width="1.0"/>
<line x1="247.50" y1="289.80" x2="298.80" y2="289.80" stroke="#333" stroke-width="1.1"/>
<text x="273.15" y="286.80" font-size="7.5" text-anchor="middle" stroke="#222" stroke-width="0.08">ns</text>
<line x1="247.50" y1="303.50" x2="273.00" y2="303.50" stroke="#333" stroke-width="1.1"/>
<circle cx="256.60" cy="299.10" r="1.2" fill="#1a1a1a"/>
<circle cx="260.25" cy="299.10" r="1.2" fill="#1a1a1a"/>
<circle cx="263.90" cy="299.10" r="1.2" fill="#1a1a1a"/>
<line x1="299.40" y1="303.50" x2="325.00" y2="303.50" stroke="#333" stroke-width="1.1"/>
<circle cx="312.20" cy="299.10" r="1.2" fill="#1a1a1a"/>
<text x="247.50" y="356.10" font-size="7.3" text-anchor="middle" textLength="13.00" lengthAdjust="spacingAndGlyphs" stroke="#222" stroke-width="0.08">Con</text>
<text x="273.00" y="356.10" font-size="7.3" text-anchor="middle" textLength="13.60" lengthAdjust="spacingAndGlyphs" stroke="#222" stroke-width="0.08">LPS</text>
<text x="299.00" y="356.10" font-size="7.3" text-anchor="middle" textLength="13.00" lengthAdjust="spacingAndGlyphs" stroke="#222" stroke-width="0.08">Con</text>
<text x="324.90" y="356.10" font-size="7.3" text-anchor="middle" textLength="13.60" lengthAdjust="spacingAndGlyphs" stroke="#222" stroke-width="0.08">LPS</text>
<text x="260.00" y="368.70" font-size="8.3" text-anchor="middle" textLength="36.00" lengthAdjust="spacingAndGlyphs" stroke="#222" stroke-width="0.18">Aged control</text>
<text x="310.50" y="368.70" font-size="8.3" text-anchor="middle" textLength="44.60" lengthAdjust="spacingAndGlyphs" stroke="#222" stroke-width="0.18">ABT263 treated</text>
<text x="285.50" y="266.50" font-size="9" text-anchor="middle" stroke="#222" stroke-width="0.08">LS-K</text>
<rect x="419.25" y="319.20" width="16.50" height="24.50" fill="#ea8595"/>
<rect x="444.75" y="331.30" width="16.50" height="12.40" fill="#9dd9a4"/>
<rect x="470.75" y="324.60" width="16.50" height="19.10" fill="#8eadce"/>
<rect x="496.65" y="326.20" width="16.50" height="17.50" fill="#9dd9a4"/>
<line x1="427.50" y1="319.20" x2="427.50" y2="311.20" stroke="#222" stroke-width="0.9"/>
<line x1="424.00" y1="311.20" x2="431.00" y2="311.20" stroke="#222" stroke-width="0.9"/>
<circle cx="427.50" cy="309.20" r="2.1" fill="#c0143a"/>
<circle cx="427.50" cy="312.70" r="2.1" fill="#c0143a"/>
<circle cx="427.50" cy="316.50" r="2.1" fill="#c0143a"/>
<circle cx="427.50" cy="320.80" r="2.1" fill="#c0143a"/>
<circle cx="427.50" cy="329.40" r="2.1" fill="#c0143a"/>
<line x1="453.00" y1="331.30" x2="453.00" y2="329.40" stroke="#222" stroke-width="0.9"/>
<line x1="449.50" y1="329.40" x2="456.50" y2="329.40" stroke="#222" stroke-width="0.9"/>
<circle cx="455.40" cy="326.50" r="2.1" fill="#33a24c"/>
<circle cx="450.60" cy="330.00" r="2.1" fill="#33a24c"/>
<circle cx="445.80" cy="332.70" r="2.1" fill="#33a24c"/>
<circle cx="451.20" cy="334.60" r="2.1" fill="#33a24c"/>
<circle cx="455.80" cy="336.20" r="2.1" fill="#33a24c"/>
<circle cx="460.20" cy="334.60" r="2.1" fill="#33a24c"/>
<circle cx="446.20" cy="336.50" r="2.1" fill="#33a24c"/>
<line x1="479.00" y1="324.60" x2="479.00" y2="315.00" stroke="#222" stroke-width="0.9"/>
<line x1="475.50" y1="315.00" x2="482.50" y2="315.00" stroke="#222" stroke-width="0.9"/>
<circle cx="476.90" cy="314.00" r="2.1" fill="#15467a"/>
<circle cx="481.30" cy="314.00" r="2.1" fill="#15467a"/>
<circle cx="471.70" cy="321.20" r="2.1" fill="#15467a"/>
<circle cx="476.50" cy="324.20" r="2.1" fill="#15467a"/>
<circle cx="481.30" cy="325.60" r="2.1" fill="#15467a"/>
<circle cx="486.20" cy="324.60" r="2.1" fill="#15467a"/>
<circle cx="471.70" cy="326.20" r="2.1" fill="#15467a"/>
<line x1="504.90" y1="326.20" x2="504.90" y2="318.50" stroke="#222" stroke-width="0.9"/>
<line x1="501.40" y1="318.50" x2="508.40" y2="318.50" stroke="#222" stroke-width="0.9"/>
<circle cx="505.00" cy="316.90" r="2.1" fill="#33a24c"/>
<circle cx="497.70" cy="322.70" r="2.1" fill="#33a24c"/>
<circle cx="512.10" cy="322.70" r="2.1" fill="#33a24c"/>
<circle cx="505.00" cy="320.40" r="2.1" fill="#33a24c"/>
<circle cx="505.00" cy="333.30" r="2.1" fill="#33a24c"/>
<circle cx="505.00" cy="336.20" r="2.1" fill="#33a24c"/>
<line x1="410.00" y1="268.00" x2="410.00" y2="344.30" stroke="#111" stroke-width="1.2"/>
<line x1="409.40" y1="343.70" x2="520.50" y2="343.70" stroke="#111" stroke-width="1.2"/>
<line x1="406.80" y1="343.70" x2="410.00" y2="343.70" stroke="#111" stroke-width="1.0"/>
<line x1="406.80" y1="329.20" x2="410.00" y2="329.20" stroke="#111" stroke-width="1.0"/>
<line x1="406.80" y1="314.70" x2="410.00" y2="314.70" stroke="#111" stroke-width="1.0"/>
<line x1="406.80" y1="300.20" x2="410.00" y2="300.20" stroke="#111" stroke-width="1.0"/>
<line x1="406.80" y1="285.70" x2="410.00" y2="285.70" stroke="#111" stroke-width="1.0"/>
<line x1="406.80" y1="271.20" x2="410.00" y2="271.20" stroke="#111" stroke-width="1.0"/>
<line x1="427.50" y1="343.70" x2="427.50" y2="346.70" stroke="#111" stroke-width="1.0"/>
<line x1="453.00" y1="343.70" x2="453.00" y2="346.70" stroke="#111" stroke-width="1.0"/>
<line x1="479.00" y1="343.70" x2="479.00" y2="346.70" stroke="#111" stroke-width="1.0"/>
<line x1="504.90" y1="343.70" x2="504.90" y2="346.70" stroke="#111" stroke-width="1.0"/>
<line x1="427.50" y1="286.80" x2="478.80" y2="286.80" stroke="#333" stroke-width="1.1"/>
<text x="453.15" y="283.80" font-size="7.5" text-anchor="middle" stroke="#222" stroke-width="0.08">ns</text>
<line x1="427.50" y1="301.00" x2="453.10" y2="301.00" stroke="#333" stroke-width="1.1"/>
<circle cx="440.30" cy="296.60" r="1.2" fill="#1a1a1a"/>
<line x1="479.40" y1="301.00" x2="505.00" y2="301.00" stroke="#333" stroke-width="1.1"/>
<text x="492.20" y="298.00" font-size="7.5" text-anchor="middle" stroke="#222" stroke-width="0.08">ns</text>
<text x="427.50" y="356.10" font-size="7.3" text-anchor="middle" textLength="13.00" lengthAdjust="spacingAndGlyphs" stroke="#222" stroke-width="0.08">Con</text>
<text x="453.00" y="356.10" font-size="7.3" text-anchor="middle" textLength="13.60" lengthAdjust="spacingAndGlyphs" stroke="#222" stroke-width="0.08">LPS</text>
<text x="479.00" y="356.10" font-size="7.3" text-anchor="middle" textLength="13.00" lengthAdjust="spacingAndGlyphs" stroke="#222" stroke-width="0.08">Con</text>
<text x="504.90" y="356.10" font-size="7.3" text-anchor="middle" textLength="13.60" lengthAdjust="spacingAndGlyphs" stroke="#222" stroke-width="0.08">LPS</text>
<text x="440.00" y="368.70" font-size="8.3" text-anchor="middle" textLength="36.00" lengthAdjust="spacingAndGlyphs" stroke="#222" stroke-width="0.18">Aged control</text>
<text x="490.50" y="368.70" font-size="8.3" text-anchor="middle" textLength="44.60" lengthAdjust="spacingAndGlyphs" stroke="#222" stroke-width="0.18">ABT263 treated</text>
<text x="465.90" y="266.50" font-size="9" text-anchor="middle" stroke="#222" stroke-width="0.08">MPP</text>
<rect x="47.90" y="506.40" width="17.20" height="17.90" fill="#ea8595"/>
<rect x="73.90" y="500.20" width="17.20" height="24.10" fill="#9dd9a4"/>
<rect x="99.80" y="485.00" width="17.20" height="39.30" fill="#8eadce"/>
<rect x="126.10" y="471.70" width="17.20" height="52.60" fill="#ab90c2"/>
<circle cx="49.50" cy="506.50" r="2.3" fill="#c0143a"/>
<circle cx="56.50" cy="505.50" r="2.3" fill="#c0143a"/>
<circle cx="63.70" cy="506.10" r="2.3" fill="#c0143a"/>
<line x1="82.50" y1="500.20" x2="82.50" y2="499.00" stroke="#222" stroke-width="0.9"/>
<line x1="79.00" y1="499.00" x2="86.00" y2="499.00" stroke="#222" stroke-width="0.9"/>
<circle cx="75.50" cy="500.60" r="2.3" fill="#33a24c"/>
<circle cx="82.30" cy="499.10" r="2.3" fill="#33a24c"/>
<circle cx="89.30" cy="499.80" r="2.3" fill="#33a24c"/>
<line x1="108.40" y1="485.00" x2="108.40" y2="481.30" stroke="#222" stroke-width="0.9"/>
<line x1="104.90" y1="481.30" x2="111.90" y2="481.30" stroke="#222" stroke-width="0.9"/>
<circle cx="105.60" cy="481.60" r="2.3" fill="#15467a"/>
<circle cx="111.50" cy="482.80" r="2.3" fill="#15467a"/>
<circle cx="108.10" cy="487.90" r="2.3" fill="#15467a"/>
<line x1="134.70" y1="471.70" x2="134.70" y2="468.00" stroke="#222" stroke-width="0.9"/>
<line x1="131.20" y1="468.00" x2="138.20" y2="468.00" stroke="#222" stroke-width="0.9"/>
<circle cx="131.40" cy="474.40" r="2.3" fill="#5c2170"/>
<circle cx="135.20" cy="468.00" r="2.3" fill="#5c2170"/>
<circle cx="137.70" cy="471.00" r="2.3" fill="#5c2170"/>
<line x1="39.30" y1="447.60" x2="39.30" y2="524.90" stroke="#111" stroke-width="1.2"/>
<line x1="38.70" y1="524.30" x2="150.50" y2="524.30" stroke="#111" stroke-width="1.2"/>
<line x1="36.10" y1="524.30" x2="39.30" y2="524.30" stroke="#111" stroke-width="1.0"/>
<text x="34.10" y="526.80" font-size="7" text-anchor="end" textLength="4.20" lengthAdjust="spacingAndGlyphs" stroke="#222" stroke-width="0.08">0</text>
<line x1="36.10" y1="509.68" x2="39.30" y2="509.68" stroke="#111" stroke-width="1.0"/>
<text x="34.10" y="512.18" font-size="7" text-anchor="end" textLength="4.20" lengthAdjust="spacingAndGlyphs" stroke="#222" stroke-width="0.08">5</text>
<line x1="36.10" y1="495.06" x2="39.30" y2="495.06" stroke="#111" stroke-width="1.0"/>
<text x="34.10" y="497.56" font-size="7" text-anchor="end" textLength="8.40" lengthAdjust="spacingAndGlyphs" stroke="#222" stroke-width="0.08">10</text>
<line x1="36.10" y1="480.44" x2="39.30" y2="480.44" stroke="#111" stroke-width="1.0"/>
<text x="34.10" y="482.94" font-size="7" text-anchor="end" textLength="8.40" lengthAdjust="spacingAndGlyphs" stroke="#222" stroke-width="0.08">15</text>
<line x1="36.10" y1="465.82" x2="39.30" y2="465.82" stroke="#111" stroke-width="1.0"/>
<text x="34.10" y="468.32" font-size="7" text-anchor="end" textLength="8.40" lengthAdjust="spacingAndGlyphs" stroke="#222" stroke-width="0.08">20</text>
<line x1="36.10" y1="451.20" x2="39.30" y2="451.20" stroke="#111" stroke-width="1.0"/>
<text x="34.10" y="453.70" font-size="7" text-anchor="end" textLength="8.40" lengthAdjust="spacingAndGlyphs" stroke="#222" stroke-width="0.08">25</text>
<line x1="56.50" y1="524.30" x2="56.50" y2="527.30" stroke="#111" stroke-width="1.0"/>
<line x1="82.50" y1="524.30" x2="82.50" y2="527.30" stroke="#111" stroke-width="1.0"/>
<line x1="108.40" y1="524.30" x2="108.40" y2="527.30" stroke="#111" stroke-width="1.0"/>
<line x1="134.70" y1="524.30" x2="134.70" y2="527.30" stroke="#111" stroke-width="1.0"/>
<line x1="56.80" y1="446.00" x2="108.20" y2="446.00" stroke="#333" stroke-width="1.1"/>
<circle cx="77.03" cy="441.60" r="1.2" fill="#1a1a1a"/>
<circle cx="80.67" cy="441.60" r="1.2" fill="#1a1a1a"/>
<circle cx="84.33" cy="441.60" r="1.2" fill="#1a1a1a"/>
<circle cx="87.97" cy="441.60" r="1.2" fill="#1a1a1a"/>
<line x1="56.80" y1="459.80" x2="82.20" y2="459.80" stroke="#333" stroke-width="1.1"/>
<circle cx="69.50" cy="455.40" r="1.2" fill="#1a1a1a"/>
<line x1="108.70" y1="459.80" x2="134.50" y2="459.80" stroke="#333" stroke-width="1.1"/>
<circle cx="117.95" cy="455.40" r="1.2" fill="#1a1a1a"/>
<circle cx="121.60" cy="455.40" r="1.2" fill="#1a1a1a"/>
<circle cx="125.25" cy="455.40" r="1.2" fill="#1a1a1a"/>
<text x="56.50" y="536.80" font-size="7.3" text-anchor="middle" textLength="13.00" lengthAdjust="spacingAndGlyphs" stroke="#222" stroke-width="0.08">Con</text>
<text x="82.50" y="536.80" font-size="7.3" text-anchor="middle" textLength="13.60" lengthAdjust="spacingAndGlyphs" stroke="#222" stroke-width="0.08">LPS</text>
<text x="108.40" y="536.80" font-size="7.3" text-anchor="middle" textLength="13.00" lengthAdjust="spacingAndGlyphs" stroke="#222" stroke-width="0.08">Con</text>
<text x="134.70" y="536.80" font-size="7.3" text-anchor="middle" textLength="13.60" lengthAdjust="spacingAndGlyphs" stroke="#222" stroke-width="0.08">LPS</text>
<text x="69.60" y="549.00" font-size="8.3" text-anchor="middle" textLength="36.00" lengthAdjust="spacingAndGlyphs" stroke="#222" stroke-width="0.18">Aged control</text>
<text x="121.50" y="549.00" font-size="8.3" text-anchor="middle" textLength="45.00" lengthAdjust="spacingAndGlyphs" stroke="#222" stroke-width="0.18">ABT263 treated</text>
<text x="17.30" y="486.20" font-size="7.3" text-anchor="middle" textLength="33.70" lengthAdjust="spacingAndGlyphs" transform="rotate(-90 17.30 486.20)" stroke="#222" stroke-width="0.25">pmoles/min</text>
<text x="94.70" y="427.10" font-size="9" text-anchor="middle" stroke="#222" stroke-width="0.08">Basal respiration</text>
<rect x="195.15" y="502.00" width="17.30" height="22.30" fill="#ea8595"/>
<rect x="221.45" y="482.00" width="17.30" height="42.30" fill="#9dd9a4"/>
<rect x="247.85" y="485.00" width="17.30" height="39.30" fill="#8eadce"/>
<rect x="274.45" y="463.30" width="17.30" height="61.00" fill="#ab90c2"/>
<circle cx="196.50" cy="502.00" r="2.3" fill="#c0143a"/>
<circle cx="203.80" cy="501.50" r="2.3" fill="#c0143a"/>
<circle cx="211.10" cy="502.00" r="2.3" fill="#c0143a"/>
<line x1="230.10" y1="482.00" x2="230.10" y2="475.90" stroke="#222" stroke-width="0.9"/>
<line x1="226.60" y1="475.90" x2="233.60" y2="475.90" stroke="#222" stroke-width="0.9"/>
<circle cx="228.10" cy="477.00" r="2.3" fill="#33a24c"/>
<circle cx="233.20" cy="479.20" r="2.3" fill="#33a24c"/>
<circle cx="230.30" cy="488.70" r="2.3" fill="#33a24c"/>
<line x1="256.50" y1="485.00" x2="256.50" y2="475.40" stroke="#222" stroke-width="0.9"/>
<line x1="253.00" y1="475.40" x2="260.00" y2="475.40" stroke="#222" stroke-width="0.9"/>
<circle cx="256.20" cy="474.80" r="2.3" fill="#15467a"/>
<circle cx="256.20" cy="486.50" r="2.3" fill="#15467a"/>
<circle cx="256.20" cy="492.50" r="2.3" fill="#15467a"/>
<line x1="283.10" y1="463.30" x2="283.10" y2="457.70" stroke="#222" stroke-width="0.9"/>
<line x1="279.60" y1="457.70" x2="286.60" y2="457.70" stroke="#222" stroke-width="0.9"/>
<circle cx="282.30" cy="455.50" r="2.3" fill="#5c2170"/>
<circle cx="279.60" cy="466.00" r="2.3" fill="#5c2170"/>
<circle cx="285.60" cy="466.00" r="2.3" fill="#5c2170"/>
<line x1="186.10" y1="447.30" x2="186.10" y2="524.90" stroke="#111" stroke-width="1.2"/>
<line x1="185.50" y1="524.30" x2="299.30" y2="524.30" stroke="#111" stroke-width="1.2"/>
<line x1="182.90" y1="524.30" x2="186.10" y2="524.30" stroke="#111" stroke-width="1.0"/>
<text x="180.80" y="526.80" font-size="7" text-anchor="end" textLength="4.20" lengthAdjust="spacingAndGlyphs" stroke="#222" stroke-width="0.08">0</text>
<line x1="182.90" y1="509.68" x2="186.10" y2="509.68" stroke="#111" stroke-width="1.0"/>
<text x="180.80" y="512.18" font-size="7" text-anchor="end" textLength="4.20" lengthAdjust="spacingAndGlyphs" stroke="#222" stroke-width="0.08">5</text>
<line x1="182.90" y1="495.06" x2="186.10" y2="495.06" stroke="#111" stroke-width="1.0"/>
<text x="180.80" y="497.56" font-size="7" text-anchor="end" textLength="8.40" lengthAdjust="spacingAndGlyphs" stroke="#222" stroke-width="0.08">10</text>
<line x1="182.90" y1="480.44" x2="186.10" y2="480.44" stroke="#111" stroke-width="1.0"/>
<text x="180.80" y="482.94" font-size="7" text-anchor="end" textLength="8.40" lengthAdjust="spacingAndGlyphs" stroke="#222" stroke-width="0.08">15</text>
<line x1="182.90" y1="465.82" x2="186.10" y2="465.82" stroke="#111" stroke-width="1.0"/>
<text x="180.80" y="468.32" font-size="7" text-anchor="end" textLength="8.40" lengthAdjust="spacingAndGlyphs" stroke="#222" stroke-width="0.08">20</text>
<line x1="182.90" y1="451.20" x2="186.10" y2="451.20" stroke="#111" stroke-width="1.0"/>
<text x="180.80" y="453.70" font-size="7" text-anchor="end" textLength="8.40" lengthAdjust="spacingAndGlyphs" stroke="#222" stroke-width="0.08">25</text>
<line x1="203.80" y1="524.30" x2="203.80" y2="527.30" stroke="#111" stroke-width="1.0"/>
<line x1="230.10" y1="524.30" x2="230.10" y2="527.30" stroke="#111" stroke-width="1.0"/>
<line x1="256.50" y1="524.30" x2="256.50" y2="527.30" stroke="#111" stroke-width="1.0"/>
<line x1="283.10" y1="524.30" x2="283.10" y2="527.30" stroke="#111" stroke-width="1.0"/>
<line x1="204.50" y1="438.90" x2="256.30" y2="438.90" stroke="#333" stroke-width="1.1"/>
<circle cx="230.40" cy="434.50" r="1.2" fill="#1a1a1a"/>
<line x1="204.50" y1="450.10" x2="230.50" y2="450.10" stroke="#333" stroke-width="1.1"/>
<circle cx="217.50" cy="445.70" r="1.2" fill="#1a1a1a"/>
<line x1="256.30" y1="450.10" x2="282.50" y2="450.10" stroke="#333" stroke-width="1.1"/>
<circle cx="269.40" cy="445.70" r="1.2" fill="#1a1a1a"/>
<text x="203.80" y="536.80" font-size="7.3" text-anchor="middle" textLength="13.00" lengthAdjust="spacingAndGlyphs" stroke="#222" stroke-width="0.08">Con</text>
<text x="230.10" y="536.80" font-size="7.3" text-anchor="middle" textLength="13.60" lengthAdjust="spacingAndGlyphs" stroke="#222" stroke-width="0.08">LPS</text>
<text x="256.50" y="536.80" font-size="7.3" text-anchor="middle" textLength="13.00" lengthAdjust="spacingAndGlyphs" stroke="#222" stroke-width="0.08">Con</text>
<text x="283.10" y="536.80" font-size="7.3" text-anchor="middle" textLength="13.60" lengthAdjust="spacingAndGlyphs" stroke="#222" stroke-width="0.08">LPS</text>
<text x="217.00" y="549.00" font-size="8.3" text-anchor="middle" textLength="36.00" lengthAdjust="spacingAndGlyphs" stroke="#222" stroke-width="0.18">Aged control</text>
<text x="269.80" y="549.00" font-size="8.3" text-anchor="middle" textLength="45.00" lengthAdjust="spacingAndGlyphs" stroke="#222" stroke-width="0.18">ABT263 treated</text>
<text x="165.60" y="486.00" font-size="7.3" text-anchor="middle" textLength="33.90" lengthAdjust="spacingAndGlyphs" transform="rotate(-90 165.60 486.00)" stroke="#222" stroke-width="0.25">pmoles/min</text>
<text x="242.50" y="427.10" font-size="9" text-anchor="middle" stroke="#222" stroke-width="0.08">Maximal respiration</text>
<text x="361.00" y="400.30" font-size="7" text-anchor="middle" font-weight="bold" fill="#111" stroke="#111" stroke-width="0.08">Glycolysis</text>
<rect x="401.00" y="388.30" width="96.30" height="7.10" fill="#1d5595"/>
<text x="449.20" y="393.90" font-size="6.2" text-anchor="middle" fill="#fff" stroke="#fff" stroke-width="0.08">Old</text>
<rect x="401.00" y="395.40" width="96.30" height="6.70" fill="#dde4ed"/>
<text x="412.50" y="400.70" font-size="5.0" text-anchor="middle" font-weight="bold" fill="#333" textLength="12.40" lengthAdjust="spacingAndGlyphs" stroke="#333" stroke-width="0.05">Control</text>
<text x="437.00" y="400.70" font-size="5.0" text-anchor="middle" font-weight="bold" fill="#333" textLength="6.30" lengthAdjust="spacingAndGlyphs" stroke="#333" stroke-width="0.05">LPS</text>
<text x="461.50" y="400.70" font-size="5.0" text-anchor="middle" font-weight="bold" fill="#333" textLength="11.80" lengthAdjust="spacingAndGlyphs" stroke="#333" stroke-width="0.05">ABT-263</text>
<text x="486.00" y="400.70" font-size="5.0" text-anchor="middle" font-weight="bold" fill="#333" textLength="21.50" lengthAdjust="spacingAndGlyphs" stroke="#333" stroke-width="0.05">ABT-263+LPS</text>
<rect x="318.20" y="404.00" width="81.20" height="9.12" fill="#dce5ef"/>
<text x="396.30" y="410.50" font-size="6.7" text-anchor="end" fill="#2a2a2a" textLength="34.24" lengthAdjust="spacingAndGlyphs" stroke="#2a2a2a" stroke-width="0.06">a-D-Glucose</text>
<text x="412.50" y="410.50" font-size="6.6" text-anchor="middle" stroke="#222" stroke-width="0.05">ND</text>
<rect x="425.50" y="404.40" width="23.00" height="7.77" fill="#cfe1b4"/>
<rect x="450.00" y="404.40" width="23.00" height="7.77" fill="#8fcb8d"/>
<rect x="474.50" y="404.40" width="23.00" height="7.77" fill="#f3efc6"/>
<rect x="318.20" y="413.07" width="81.20" height="9.12" fill="#bccede"/>
<text x="396.30" y="419.57" font-size="6.7" text-anchor="end" fill="#2a2a2a" textLength="25.77" lengthAdjust="spacingAndGlyphs" stroke="#2a2a2a" stroke-width="0.06">Glycogen</text>
<rect x="401.00" y="413.47" width="23.00" height="7.77" fill="#97cc90"/>
<rect x="425.50" y="413.47" width="23.00" height="7.77" fill="#c9dfb0"/>
<text x="461.50" y="419.57" font-size="6.6" text-anchor="middle" stroke="#222" stroke-width="0.05">ND</text>
<rect x="474.50" y="413.47" width="23.00" height="7.77" fill="#d6e3b8"/>
<rect x="318.20" y="422.14" width="81.20" height="9.12" fill="#dce5ef"/>
<text x="396.30" y="428.64" font-size="6.7" text-anchor="end" fill="#2a2a2a" textLength="48.47" lengthAdjust="spacingAndGlyphs" stroke="#2a2a2a" stroke-width="0.06">D-Glucose-1-PO4</text>
<text x="412.50" y="428.64" font-size="6.6" text-anchor="middle" stroke="#222" stroke-width="0.05">ND</text>
<text x="437.00" y="428.64" font-size="6.6" text-anchor="middle" stroke="#222" stroke-width="0.05">ND</text>
<text x="461.50" y="428.64" font-size="6.6" text-anchor="middle" stroke="#222" stroke-width="0.05">ND</text>
<text x="486.00" y="428.64" font-size="6.6" text-anchor="middle" stroke="#222" stroke-width="0.05">ND</text>
<rect x="318.20" y="431.21" width="81.20" height="9.12" fill="#bccede"/>
<text x="396.30" y="437.71" font-size="6.7" text-anchor="end" fill="#2a2a2a" textLength="48.47" lengthAdjust="spacingAndGlyphs" stroke="#2a2a2a" stroke-width="0.06">D-Glucose-6-PO4</text>
<rect x="401.00" y="431.61" width="23.00" height="7.77" fill="#a0d096"/>
<rect x="425.50" y="431.61" width="23.00" height="7.77" fill="#95cc8f"/>
<rect x="450.00" y="431.61" width="23.00" height="7.77" fill="#fcd6b8"/>
<rect x="474.50" y="431.61" width="23.00" height="7.77" fill="#f8b8a0"/>
<rect x="318.20" y="440.28" width="81.20" height="9.12" fill="#dce5ef"/>
<text x="396.30" y="446.78" font-size="6.7" text-anchor="end" fill="#2a2a2a" textLength="53.90" lengthAdjust="spacingAndGlyphs" stroke="#2a2a2a" stroke-width="0.06">D-Gluconate-6-PO4</text>
<text x="412.50" y="446.78" font-size="6.6" text-anchor="middle" stroke="#222" stroke-width="0.05">ND</text>
<rect x="425.50" y="440.68" width="23.00" height="7.77" fill="#f4ebc6"/>
<text x="461.50" y="446.78" font-size="6.6" text-anchor="middle" stroke="#222" stroke-width="0.05">ND</text>
<rect x="474.50" y="440.68" width="23.00" height="7.77" fill="#e3e8bd"/>
<rect x="318.20" y="449.35" width="81.20" height="9.12" fill="#bccede"/>
<text x="396.30" y="455.85" font-size="6.7" text-anchor="end" fill="#2a2a2a" textLength="55.25" lengthAdjust="spacingAndGlyphs" stroke="#2a2a2a" stroke-width="0.06">D, L-a-Glycerol-PO4</text>
<rect x="401.00" y="449.75" width="23.00" height="7.77" fill="#f6ebc4"/>
<rect x="425.50" y="449.75" width="23.00" height="7.77" fill="#fbcfb3"/>
<rect x="450.00" y="449.75" width="23.00" height="7.77" fill="#f58685"/>
<rect x="474.50" y="449.75" width="23.00" height="7.77" fill="#f6908c"/>
<rect x="318.20" y="458.42" width="81.20" height="9.12" fill="#dce5ef"/>
<text x="396.30" y="464.92" font-size="6.7" text-anchor="end" fill="#2a2a2a" textLength="32.88" lengthAdjust="spacingAndGlyphs" stroke="#2a2a2a" stroke-width="0.06">Pyruvic acid</text>
<text x="412.50" y="464.92" font-size="6.6" text-anchor="middle" stroke="#222" stroke-width="0.05">ND</text>
<rect x="425.50" y="458.82" width="23.00" height="7.77" fill="#e0e6bc"/>
<rect x="450.00" y="458.82" width="23.00" height="7.77" fill="#b0d6a0"/>
<rect x="474.50" y="458.82" width="23.00" height="7.77" fill="#fcd6ba"/>
<rect x="318.20" y="467.49" width="81.20" height="9.12" fill="#bccede"/>
<text x="396.30" y="473.99" font-size="6.7" text-anchor="end" fill="#2a2a2a" textLength="76.44" lengthAdjust="spacingAndGlyphs" stroke="#2a2a2a" stroke-width="0.06">Pyruvic acid (+ L-Malic acid)</text>
<rect x="401.00" y="467.89" width="23.00" height="7.77" fill="#8fcb8c"/>
<rect x="425.50" y="467.89" width="23.00" height="7.77" fill="#bfdca8"/>
<rect x="450.00" y="467.89" width="23.00" height="7.77" fill="#f2edc6"/>
<rect x="474.50" y="467.89" width="23.00" height="7.77" fill="#fbd3b8"/>
<text x="361.00" y="492.40" font-size="7" text-anchor="middle" font-weight="bold" fill="#111" stroke="#111" stroke-width="0.08">TCA cycle</text>
<rect x="401.00" y="480.00" width="96.30" height="7.10" fill="#1d5595"/>
<text x="449.20" y="485.60" font-size="6.2" text-anchor="middle" fill="#fff" stroke="#fff" stroke-width="0.08">Old</text>
<rect x="401.00" y="487.10" width="96.30" height="6.70" fill="#dde4ed"/>
<text x="412.50" y="492.40" font-size="5.0" text-anchor="middle" font-weight="bold" fill="#333" textLength="12.40" lengthAdjust="spacingAndGlyphs" stroke="#333" stroke-width="0.05">Control</text>
<text x="437.00" y="492.40" font-size="5.0" text-anchor="middle" font-weight="bold" fill="#333" textLength="6.30" lengthAdjust="spacingAndGlyphs" stroke="#333" stroke-width="0.05">LPS</text>
<text x="461.50" y="492.40" font-size="5.0" text-anchor="middle" font-weight="bold" fill="#333" textLength="11.80" lengthAdjust="spacingAndGlyphs" stroke="#333" stroke-width="0.05">ABT-263</text>
<text x="486.00" y="492.40" font-size="5.0" text-anchor="middle" font-weight="bold" fill="#333" textLength="21.50" lengthAdjust="spacingAndGlyphs" stroke="#333" stroke-width="0.05">ABT-263+LPS</text>
<rect x="318.20" y="495.90" width="81.20" height="9.12" fill="#dce5ef"/>
<text x="396.30" y="502.40" font-size="6.7" text-anchor="end" fill="#2a2a2a" textLength="26.78" lengthAdjust="spacingAndGlyphs" stroke="#2a2a2a" stroke-width="0.06">Citric acid</text>
<rect x="401.00" y="496.30" width="23.00" height="7.77" fill="#f9ebc8"/>
<rect x="425.50" y="496.30" width="23.00" height="7.77" fill="#ebebc0"/>
<rect x="450.00" y="496.30" width="23.00" height="7.77" fill="#f9e6c5"/>
<rect x="474.50" y="496.30" width="23.00" height="7.77" fill="#f7a996"/>
<rect x="318.20" y="504.97" width="81.20" height="9.12" fill="#bccede"/>
<text x="396.30" y="511.47" font-size="6.7" text-anchor="end" fill="#2a2a2a" textLength="46.78" lengthAdjust="spacingAndGlyphs" stroke="#2a2a2a" stroke-width="0.06">D, L-Isocitric acid</text>
<text x="412.50" y="511.47" font-size="6.6" text-anchor="middle" stroke="#222" stroke-width="0.05">ND</text>
<rect x="425.50" y="505.37" width="23.00" height="7.77" fill="#c3ddaa"/>
<rect x="450.00" y="505.37" width="23.00" height="7.77" fill="#aad49c"/>
<rect x="474.50" y="505.37" width="23.00" height="7.77" fill="#f7edc6"/>
<rect x="318.20" y="514.04" width="81.20" height="9.12" fill="#dce5ef"/>
<text x="396.30" y="520.54" font-size="6.7" text-anchor="end" fill="#2a2a2a" textLength="43.73" lengthAdjust="spacingAndGlyphs" stroke="#2a2a2a" stroke-width="0.06">cis-Aconitic acid</text>
<rect x="401.00" y="514.44" width="23.00" height="7.77" fill="#e5e8bd"/>
<rect x="425.50" y="514.44" width="23.00" height="7.77" fill="#d3e3b6"/>
<rect x="450.00" y="514.44" width="23.00" height="7.77" fill="#fbbfa5"/>
<rect x="474.50" y="514.44" width="23.00" height="7.77" fill="#f89f90"/>
<rect x="318.20" y="523.11" width="81.20" height="9.12" fill="#bccede"/>
<text x="396.30" y="529.61" font-size="6.7" text-anchor="end" fill="#2a2a2a" textLength="53.90" lengthAdjust="spacingAndGlyphs" stroke="#2a2a2a" stroke-width="0.06">a-Keto-Glutaric acid</text>
<rect x="401.00" y="523.51" width="23.00" height="7.77" fill="#95cc8f"/>
<rect x="425.50" y="523.51" width="23.00" height="7.77" fill="#eeebc2"/>
<rect x="450.00" y="523.51" width="23.00" height="7.77" fill="#fbdcbc"/>
<rect x="474.50" y="523.51" width="23.00" height="7.77" fill="#fbc6ab"/>
<rect x="318.20" y="532.18" width="81.20" height="9.12" fill="#dce5ef"/>
<text x="396.30" y="538.68" font-size="6.7" text-anchor="end" fill="#2a2a2a" textLength="35.60" lengthAdjust="spacingAndGlyphs" stroke="#2a2a2a" stroke-width="0.06">Succinic acid</text>
<rect x="401.00" y="532.58" width="23.00" height="7.77" fill="#c4dcab"/>
<rect x="425.50" y="532.58" width="23.00" height="7.77" fill="#cfe1b4"/>
<rect x="450.00" y="532.58" width="23.00" height="7.77" fill="#fbe0bf"/>
<rect x="474.50" y="532.58" width="23.00" height="7.77" fill="#fcd3b6"/>
<rect x="318.20" y="541.25" width="81.20" height="9.12" fill="#bccede"/>
<text x="396.30" y="547.75" font-size="6.7" text-anchor="end" fill="#2a2a2a" textLength="34.91" lengthAdjust="spacingAndGlyphs" stroke="#2a2a2a" stroke-width="0.06">Fumaric acid</text>
<rect x="401.00" y="541.65" width="23.00" height="7.77" fill="#dbe5b9"/>
<rect x="425.50" y="541.65" width="23.00" height="7.77" fill="#b0d6a0"/>
<rect x="450.00" y="541.65" width="23.00" height="7.77" fill="#f9b8a0"/>
<rect x="474.50" y="541.65" width="23.00" height="7.77" fill="#fbdcbc"/>
<rect x="318.20" y="550.32" width="81.20" height="9.12" fill="#dce5ef"/>
<text x="396.30" y="556.82" font-size="6.7" text-anchor="end" fill="#2a2a2a" textLength="32.54" lengthAdjust="spacingAndGlyphs" stroke="#2a2a2a" stroke-width="0.06">L-Malic acid</text>
<rect x="401.00" y="550.72" width="23.00" height="7.77" fill="#c6deac"/>
<rect x="425.50" y="550.72" width="23.00" height="7.77" fill="#c4ddab"/>
<rect x="450.00" y="550.72" width="23.00" height="7.77" fill="#f5ecc5"/>
<rect x="474.50" y="550.72" width="23.00" height="7.77" fill="#f6e9c4"/>
<defs><linearGradient id="cb" x1="0" y1="0" x2="0" y2="1"><stop offset="0" stop-color="#f37b7b"/><stop offset="0.25" stop-color="#f9c3a8"/><stop offset="0.5" stop-color="#f6ecc4"/><stop offset="0.75" stop-color="#cfe2b2"/><stop offset="1" stop-color="#8ccb8c"/></linearGradient></defs>
<rect x="508.0" y="433.5" width="5.0" height="87.8" fill="url(#cb)"/>
<text x="515.20" y="440.00" font-size="7" stroke="#222" stroke-width="0.08">2</text>
<text x="515.20" y="482.20" font-size="7" stroke="#222" stroke-width="0.08">1</text>
<text x="515.20" y="520.00" font-size="7" stroke="#222" stroke-width="0.08">0</text>
<text x="506.30" y="474.70" font-size="6.8" text-anchor="middle" textLength="34.00" lengthAdjust="spacingAndGlyphs" transform="rotate(-90 506.30 474.70)" stroke="#222" stroke-width="0.08">Fold change</text>
</svg>
</body></html>
